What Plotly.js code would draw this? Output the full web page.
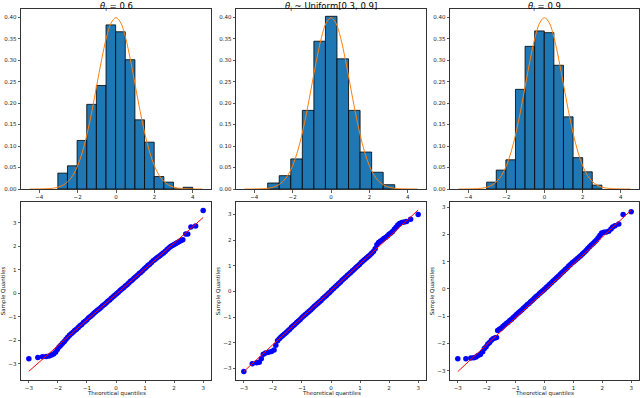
<!DOCTYPE html>
<html>
<head>
<meta charset="utf-8">
<script src="https://cdn.plot.ly/plotly-3.0.1.min.js"></script>
<style>
  html, body { margin: 0; padding: 0; background: #fff; }
  #chart { width: 640px; height: 398px; }
</style>
</head>
<body>
<div id="chart"></div>
<script>
// --- histogram densities (left edge of first bin, bin width, heights) ---
const hist1Start = -3.03, hist1Width = 0.502;
const hist1Density = [0.037, 0.054, 0.113, 0.197, 0.241, 0.382, 0.366, 0.301, 0.161, 0.109, 0.029, 0.016, 0.0, 0.004];

const hist2Start = -3.30, hist2Width = 0.602;
const hist2Density = [0.014, 0.031, 0.070, 0.183, 0.344, 0.402, 0.303, 0.183, 0.086, 0.039, 0.010];

const hist3Start = -3.03, hist3Width = 0.503;
const hist3Density = [0.016, 0.044, 0.068, 0.232, 0.332, 0.368, 0.364, 0.288, 0.168, 0.073, 0.040, 0.009];

// --- normal pdf curve (orange) ---
const pdfX = [-4.5, -4.25, -4, -3.75, -3.5, -3.25, -3, -2.75, -2.5, -2.25, -2, -1.75, -1.5, -1.25, -1, -0.75, -0.5, -0.25, 0,
              0.25, 0.5, 0.75, 1, 1.25, 1.5, 1.75, 2, 2.25, 2.5, 2.75, 3, 3.25, 3.5, 3.75, 4, 4.25, 4.5];
const pdfY = [0.0000, 0.0000, 0.0001, 0.0004, 0.0009, 0.0020, 0.0044, 0.0091, 0.0175, 0.0317, 0.0540, 0.0863, 0.1295, 0.1826, 0.2420, 0.3011, 0.3521, 0.3867, 0.3989,
              0.3867, 0.3521, 0.3011, 0.2420, 0.1826, 0.1295, 0.0863, 0.0540, 0.0317, 0.0175, 0.0091, 0.0044, 0.0020, 0.0009, 0.0004, 0.0001, 0.0000, 0.0000];

// --- QQ plots: theoretical vs sample quantiles ---
const qq1X = [-3.0, -2.69, -2.53, -2.40, -2.30, -2.22, -2.15, -2.08, -2.02, -1.96, -1.90, -1.84, -1.78, -1.72, -1.66, -1.60, -1.54, -1.48, -1.42, -1.36,
              -1.30, -1.24, -1.18, -1.12, -1.06, -1.00, -0.94, -0.88, -0.82, -0.76, -0.70, -0.64, -0.58, -0.52, -0.46, -0.40, -0.34, -0.28, -0.22, -0.16,
              -0.10, -0.04, 0.02, 0.08, 0.14, 0.20, 0.26, 0.32, 0.38, 0.44, 0.50, 0.56, 0.62, 0.68, 0.74, 0.80, 0.86, 0.92, 0.98, 1.04,
              1.10, 1.16, 1.22, 1.28, 1.34, 1.40, 1.46, 1.52, 1.58, 1.64, 1.70, 1.76, 1.82, 1.88, 1.94, 2.00, 2.06, 2.12, 2.18, 2.24,
              2.30, 2.40, 2.47, 2.58, 2.74, 3.0];
const qq1Y = [-2.78, -2.72, -2.69, -2.68, -2.66, -2.62, -2.58, -2.50, -2.38, -2.28, -2.20, -2.12, -2.05, -1.95, -1.86, -1.78, -1.72, -1.65, -1.58, -1.52,
              -1.45, -1.38, -1.32, -1.24, -1.18, -1.12, -1.04, -0.98, -0.92, -0.85, -0.78, -0.72, -0.66, -0.60, -0.53, -0.47, -0.41, -0.34, -0.28, -0.21,
              -0.14, -0.08, -0.02, 0.05, 0.12, 0.18, 0.24, 0.31, 0.37, 0.44, 0.51, 0.57, 0.64, 0.71, 0.77, 0.84, 0.90, 0.97, 1.04, 1.11,
              1.18, 1.24, 1.31, 1.38, 1.44, 1.50, 1.55, 1.61, 1.67, 1.72, 1.79, 1.86, 1.93, 1.99, 2.03, 2.08, 2.12, 2.16, 2.20, 2.24,
              2.28, 2.52, 2.52, 2.82, 2.86, 3.52];
const qq1LineX = [-3, 3];
const qq1LineY = [-3.31, 3.22];

const qq2X = [-3.0, -2.71, -2.56, -2.47, -2.40, -2.33, -2.25, -2.15, -2.05, -1.96, -1.90, -1.84, -1.78, -1.72, -1.66, -1.60, -1.54, -1.48, -1.42, -1.36,
              -1.30, -1.24, -1.18, -1.12, -1.06, -1.00, -0.94, -0.88, -0.82, -0.76, -0.70, -0.64, -0.58, -0.52, -0.46, -0.40, -0.34, -0.28, -0.22, -0.16,
              -0.10, -0.04, 0.02, 0.08, 0.14, 0.20, 0.26, 0.32, 0.38, 0.44, 0.50, 0.56, 0.62, 0.68, 0.74, 0.80, 0.86, 0.92, 0.98, 1.04,
              1.10, 1.16, 1.22, 1.28, 1.34, 1.40, 1.46, 1.52, 1.58, 1.64, 1.70, 1.76, 1.82, 1.88, 1.94, 2.00, 2.06, 2.12, 2.18, 2.24,
              2.30, 2.36, 2.44, 2.52, 2.60, 2.74, 3.0];
const qq2Y = [-3.12, -2.82, -2.78, -2.76, -2.62, -2.45, -2.40, -2.37, -2.34, -2.28, -2.10, -1.92, -1.84, -1.78, -1.72, -1.66, -1.60, -1.53, -1.47, -1.40,
              -1.34, -1.28, -1.21, -1.15, -1.09, -1.02, -0.96, -0.90, -0.84, -0.78, -0.72, -0.66, -0.59, -0.53, -0.47, -0.41, -0.35, -0.28, -0.22, -0.16,
              -0.09, -0.03, 0.04, 0.10, 0.17, 0.23, 0.30, 0.36, 0.43, 0.49, 0.55, 0.62, 0.68, 0.74, 0.80, 0.86, 0.93, 0.99, 1.05, 1.12,
              1.18, 1.24, 1.30, 1.36, 1.42, 1.48, 1.55, 1.66, 1.82, 1.90, 1.95, 2.00, 2.06, 2.10, 2.16, 2.22, 2.27, 2.33, 2.42, 2.50,
              2.58, 2.64, 2.68, 2.70, 2.72, 2.81, 2.99];
const qq2LineX = [-3, 3];
const qq2LineY = [-3.12, 3.17];

const qq3X = [-3.0, -2.72, -2.55, -2.45, -2.37, -2.30, -2.22, -2.14, -2.08, -2.02, -1.96, -1.90, -1.84, -1.78, -1.72, -1.66, -1.62, -1.56, -1.50, -1.44,
              -1.38, -1.32, -1.26, -1.20, -1.14, -1.08, -1.02, -0.96, -0.90, -0.84, -0.78, -0.72, -0.66, -0.60, -0.54, -0.48, -0.42, -0.36, -0.30, -0.24,
              -0.18, -0.12, -0.06, 0.00, 0.06, 0.12, 0.18, 0.24, 0.30, 0.36, 0.42, 0.48, 0.54, 0.60, 0.66, 0.72, 0.78, 0.84, 0.90, 0.96,
              1.02, 1.08, 1.14, 1.20, 1.26, 1.32, 1.38, 1.44, 1.50, 1.56, 1.62, 1.68, 1.74, 1.80, 1.86, 1.92, 1.98, 2.06, 2.14, 2.22,
              2.30, 2.36, 2.44, 2.57, 2.72, 3.0];
const qq3Y = [-2.56, -2.56, -2.53, -2.52, -2.50, -2.44, -2.40, -2.30, -2.18, -2.12, -2.02, -1.96, -1.88, -1.83, -1.80, -1.78, -1.52, -1.48, -1.44, -1.38,
              -1.32, -1.27, -1.22, -1.16, -1.11, -1.05, -0.99, -0.93, -0.87, -0.82, -0.76, -0.70, -0.64, -0.58, -0.53, -0.47, -0.41, -0.35, -0.29, -0.24,
              -0.18, -0.12, -0.07, -0.01, 0.05, 0.11, 0.17, 0.23, 0.29, 0.35, 0.41, 0.47, 0.53, 0.59, 0.65, 0.71, 0.77, 0.84, 0.90, 0.96,
              1.01, 1.06, 1.12, 1.17, 1.23, 1.29, 1.35, 1.41, 1.48, 1.55, 1.61, 1.67, 1.73, 1.80, 1.88, 1.97, 2.05, 2.08, 2.09, 2.12,
              2.20, 2.27, 2.32, 2.38, 2.73, 2.83];
const qq3LineX = [-3, 3];
const qq3LineY = [-3.03, 2.89];

const titles = ['<i>θ</i><sub>i</sub> = 0.6', '<i>θ</i><sub>i</sub> ~ Uniform[0.3, 0.9]', '<i>θ</i><sub>i</sub> = 0.9'];

// ---------------------------------------------------------------
const W = 640, H = 398;
const colX = [[21, 211], [236, 426], [450, 639]];
const topRow = [9, 189];
const botRow = [202, 380];

function xd(c) { return [c[0] / W, c[1] / W]; }
function yd(r) { return [1 - r[1] / H, 1 - r[0] / H]; }

function centers(start, width, n) {
    const out = [];
    for (let i = 0; i < n; i++) out.push(start + (i + 0.5) * width);
    return out;
}

const hists = [
    [hist1Start, hist1Width, hist1Density],
    [hist2Start, hist2Width, hist2Density],
    [hist3Start, hist3Width, hist3Density]
];
const qqs = [
    [qq1X, qq1Y, qq1LineX, qq1LineY],
    [qq2X, qq2Y, qq2LineX, qq2LineY],
    [qq3X, qq3Y, qq3LineX, qq3LineY]
];
const qqYRange = [[-3.68, 3.88], [-3.45, 3.48], [-3.34, 3.19]];

const data = [];
hists.forEach((h, i) => {
    const ax = i === 0 ? '' : String(i + 1);
    data.push({
        type: 'bar',
        x: centers(h[0], h[1], h[2].length),
        y: h[2],
        width: h[1],
        marker: { color: '#1f77b4', line: { color: '#000', width: 0.8 } },
        xaxis: 'x' + ax, yaxis: 'y' + ax,
        hoverinfo: 'skip'
    });
    data.push({
        type: 'scatter', mode: 'lines',
        x: pdfX, y: pdfY,
        line: { color: '#ff7f0e', width: 1, shape: 'spline' },
        xaxis: 'x' + ax, yaxis: 'y' + ax
    });
});
qqs.forEach((q, i) => {
    const ax = String(i + 4);
    data.push({
        type: 'scatter', mode: 'markers',
        x: q[0], y: q[1],
        marker: { color: '#0000ff', size: 5.5 },
        xaxis: 'x' + ax, yaxis: 'y' + ax
    });
    data.push({
        type: 'scatter', mode: 'lines',
        x: q[2], y: q[3],
        line: { color: '#ff0000', width: 1 },
        xaxis: 'x' + ax, yaxis: 'y' + ax
    });
});

const axisStyle = {
    showline: true, mirror: true, linecolor: '#333', linewidth: 1,
    ticks: 'outside', ticklen: 2.5, tickwidth: 0.8, tickcolor: '#333',
    showgrid: false, zeroline: false,
    tickfont: { family: 'DejaVu Sans', size: 5.5, color: '#222' }
};

const layout = {
    width: W, height: H,
    margin: { l: 0, r: 0, t: 0, b: 0 },
    paper_bgcolor: '#fff', plot_bgcolor: '#fff',
    showlegend: false,
    font: { family: 'DejaVu Sans' },
    annotations: []
};

for (let i = 0; i < 3; i++) {
    const ax = i === 0 ? '' : String(i + 1);
    const midX = (colX[i][0] + colX[i][1]) / 2 / W;
    layout['xaxis' + ax] = Object.assign({}, axisStyle, {
        domain: xd(colX[i]), anchor: 'y' + ax,
        range: [-4.95, 4.95], tickvals: [-4, -2, 0, 2, 4]
    });
    layout['yaxis' + ax] = Object.assign({}, axisStyle, {
        domain: yd(topRow), anchor: 'x' + ax,
        range: [0, 0.419], dtick: 0.05, tick0: 0, tickformat: '.2f'
    });
    const bx = String(i + 4);
    layout['xaxis' + bx] = Object.assign({}, axisStyle, {
        domain: xd(colX[i]), anchor: 'y' + bx,
        range: [-3.27, 3.27], dtick: 1, tick0: 0, ticklen: 2
    });
    layout['yaxis' + bx] = Object.assign({}, axisStyle, {
        domain: yd(botRow), anchor: 'x' + bx,
        range: qqYRange[i], dtick: 1, tick0: 0,
        title: { text: 'Sample Quantiles', font: { size: 5.5, color: '#222' }, standoff: 2 }
    });
    // panel title
    layout.annotations.push({
        text: titles[i], xref: 'paper', yref: 'paper',
        x: midX, y: 1,
        xanchor: 'center', yanchor: 'top', yshift: 1, showarrow: false,
        font: { family: 'DejaVu Sans', size: 8.5, color: '#000' }
    });
    // x axis title of the QQ plot, tight against the bottom edge
    layout.annotations.push({
        text: 'Theoretical quantiles', xref: 'paper', yref: 'paper',
        x: midX, y: 0,
        xanchor: 'center', yanchor: 'bottom', borderpad: 0, showarrow: false,
        font: { family: 'DejaVu Sans', size: 5.5, color: '#222' }
    });
}

Plotly.newPlot('chart', data, layout, { staticPlot: true });
</script>
</body>
</html>
